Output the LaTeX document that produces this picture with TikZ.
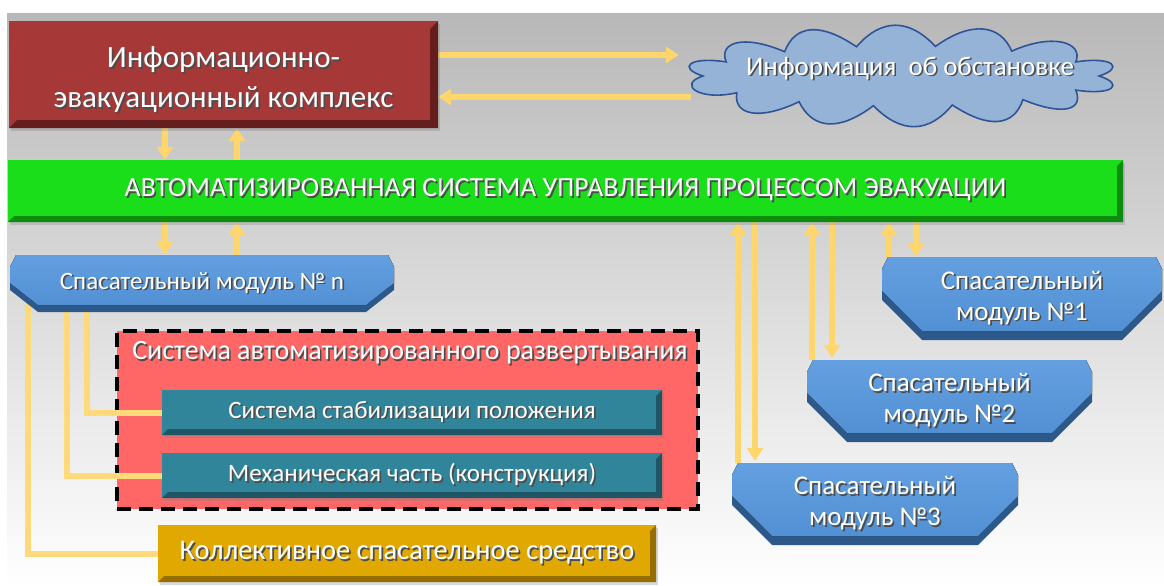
\documentclass[tikz,border=0pt]{standalone}
\usepackage{fontspec}
\setmainfont{Carlito}
\usetikzlibrary{arrows.meta,shadows}

\pgfdeclarelayer{bg}
\pgfdeclarelayer{frame}
\pgfdeclarelayer{links}
\pgfdeclarelayer{cloudl}
\pgfsetlayers{bg,frame,links,cloudl,main}

\definecolor{bgtop}{RGB}{184,184,184}
\definecolor{redface}{RGB}{166,56,56}
\definecolor{reddark}{RGB}{100,30,30}
\definecolor{grnface}{RGB}{26,222,26}
\definecolor{grndark}{RGB}{14,140,14}
\definecolor{cloudfill}{RGB}{149,179,215}
\definecolor{cloudline}{RGB}{47,85,151}
\definecolor{blutop}{RGB}{100,160,224}
\definecolor{blubot}{RGB}{82,144,212}
\definecolor{bludark}{RGB}{44,88,138}
\definecolor{salmon}{RGB}{255,102,102}
\definecolor{tealface}{RGB}{49,133,155}
\definecolor{tealdark}{RGB}{30,86,101}
\definecolor{goldface}{RGB}{224,168,0}
\definecolor{golddark}{RGB}{150,110,0}
\definecolor{arrowc}{RGB}{255,214,108}
\definecolor{linec}{RGB}{255,218,122}

% white lettering with a dark offset shadow
\newcommand\sh[1]{\leavevmode\rlap{\kern1.7pt\raisebox{-1.7pt}{\color{black!70}#1}}#1}
\newcommand\fs[2]{\fontsize{#1}{#2}\selectfont}

\tikzset{
  % flat box with a darker bevel along the bottom and right edges
  box3d/.style n args={3}{inner sep=0pt, fill=#1, text=white, align=center,
    path picture={\fill[#2] (path picture bounding box.south west)
      -- (path picture bounding box.south east)
      -- (path picture bounding box.north east)
      -- ([xshift=-#3,yshift=-#3]path picture bounding box.north east)
      -- ([xshift=-#3,yshift=#3]path picture bounding box.south east)
      -- ([xshift=#3,yshift=#3]path picture bounding box.south west) -- cycle;}},
  % octagonal rescue module: small top corners, large bottom corners, dark base
  module/.style n args={3}{inner sep=0pt, text=white, align=center,
    path picture={
      \fill[bludark] ([xshift=6pt]path picture bounding box.north west)
        -- ([xshift=-6pt]path picture bounding box.north east)
        -- ([yshift=-12pt]path picture bounding box.north east)
        -- ([yshift=#2]path picture bounding box.south east)
        -- ([xshift=-#1]path picture bounding box.south east)
        -- ([xshift=#1]path picture bounding box.south west)
        -- ([yshift=#2]path picture bounding box.south west)
        -- ([yshift=-12pt]path picture bounding box.north west) -- cycle;
      \fill[top color=blutop,bottom color=blubot]
           ([xshift=6pt]path picture bounding box.north west)
        -- ([xshift=-6pt]path picture bounding box.north east)
        -- ([yshift=-12pt]path picture bounding box.north east)
        -- ([yshift=#2+#3]path picture bounding box.south east)
        -- ([xshift=-#1,yshift=#3]path picture bounding box.south east)
        -- ([xshift=#1,yshift=#3]path picture bounding box.south west)
        -- ([yshift=#2+#3]path picture bounding box.south west)
        -- ([yshift=-12pt]path picture bounding box.north west) -- cycle;}},
  shade3d/.style={drop shadow={opacity=0.3,shadow xshift=2pt,shadow yshift=-3pt}},
  arr/.style={draw=arrowc, line width=6pt, -{Triangle[width=16pt,length=13pt]}},
  conn/.style={draw=linec, line width=6pt},
  puffy/.style={fill=cloudfill, draw=cloudline, line width=1.6pt},
}

\begin{document}
\begin{tikzpicture}[x=1pt,y=-1pt]
\useasboundingbox (0,0) rectangle (1164,586);
\begin{pgfonlayer}{bg}
  \fill[top color=bgtop,bottom color=white] (7,14) rectangle (1164,586);
\end{pgfonlayer}

% upper level
\node[box3d={redface}{reddark}{8pt}, shade3d, minimum width=429pt, minimum height=107pt,
      font=\fs{31}{40}] (ieb) at (223.5,74.5)
      {\raisebox{-5pt}[\height][\depth]{\begin{tabular}{@{}c@{}}\sh{Информационно-}\\\sh{эвакуационный комплекс}\end{tabular}}};
\node[minimum width=436pt, minimum height=98pt, inner sep=0pt, text=white,
      font=\fs{27}{32}] (info) at (901,76)
      {\raisebox{1pt}[0pt][0pt]{\makebox[0pt]{\hspace{18pt}\sh{Информация\ \ об обстановке}}}};
% cloud outline around the situation data
\begin{pgfonlayer}{cloudl}
  \filldraw[puffy] ([shift={(198,0)}]info.center)
    \foreach \ta/\tb in {0/28,28/52,52/75,75/98,98/121,121/146,146/180,
                         180/208,208/234,234/257,257/280,280/304,304/332,332/360}{
      .. controls ([shift={({226*cos(\ta+8)},{58*sin(\ta+8)})}]info.center)
             and ([shift={({226*cos(\tb-8)},{58*sin(\tb-8)})}]info.center)
      .. ([shift={({198*cos(\tb)},{30*sin(\tb)})}]info.center)
    } -- cycle;
\end{pgfonlayer}

% control system bar
\node[box3d={grnface}{grndark}{6pt}, shade3d, minimum width=1115pt, minimum height=62pt,
      font=\fs{27.7}{31}] (asu) at (565.5,191)
      {\sh{АВТОМАТИЗИРОВАННАЯ СИСТЕМА УПРАВЛЕНИЯ ПРОЦЕССОМ ЭВАКУАЦИИ}};

% rescue modules
\node[module={28pt}{22pt}{7pt}, minimum width=384pt, minimum height=57pt,
      font=\fs{25}{30}] (modn) at (202,283.5) {\sh{Спасательный модуль № n}};
\node[module={40pt}{40pt}{9pt}, minimum width=280pt, minimum height=83pt,
      font=\fs{27}{31}] (mod1) at (1022,298.5) {\sh{Спасательный}\\\sh{модуль №1}};
\node[module={40pt}{40pt}{9pt}, minimum width=285pt, minimum height=82pt,
      font=\fs{27}{31}] (mod2) at (949.5,401) {\sh{Спасательный}\\\sh{модуль №2}};
\node[module={40pt}{40pt}{9pt}, minimum width=286pt, minimum height=82pt,
      font=\fs{27}{31}] (mod3) at (875,504) {\sh{Спасательный}\\\sh{модуль №3}};

% automated deployment system
\begin{pgfonlayer}{frame}
\node[fill=salmon, draw=black, line width=4pt, dash pattern=on 14pt off 8pt,
      minimum width=581pt, minimum height=178pt, inner sep=0pt] (sad) at (407.5,420) {};
\end{pgfonlayer}
\node[text=white, font=\fs{28}{32}, inner sep=0pt] (sadt) at (410,354)
      {\sh{Система автоматизированного развертывания}};
\node[box3d={tealface}{tealdark}{6pt}, shade3d, minimum width=500pt, minimum height=45pt,
      font=\fs{25}{28}] (stab) at (412,412.5) {\sh{Система стабилизации положения}};
\node[box3d={tealface}{tealdark}{6pt}, shade3d, minimum width=500pt, minimum height=45pt,
      font=\fs{25}{28}] (mech) at (412,475.5) {\sh{Механическая часть (конструкция)}};

% collective rescue means
\node[box3d={goldface}{golddark}{6pt}, shade3d, minimum width=498pt, minimum height=57pt,
      font=\fs{28.5}{31}] (kss) at (407,553.5) {\sh{Коллективное спасательное средство}};

\begin{pgfonlayer}{links}
  % complex <-> situation data
  \draw[arr, shorten >=4pt] ([yshift=19.5pt]ieb.east) -- ([yshift=19.5pt]ieb.east -| info.west);
  \draw[arr, shorten <=-8pt] ([yshift=-22.5pt]ieb.east -| info.west) -- ([yshift=-22.5pt]ieb.east);
  % complex <-> control system
  \draw[arr] ([xshift=-58.5pt]ieb.south) -- ([xshift=-58.5pt]ieb.south |- asu.north);
  \draw[arr] ([xshift=13.5pt]ieb.south |- asu.north) -- ([xshift=13.5pt]ieb.south);
  % control system <-> module n
  \draw[arr] ([xshift=-37pt]modn.north |- asu.south) -- ([xshift=-37pt]modn.north);
  \draw[arr] ([xshift=35pt]modn.north) -- ([xshift=35pt]modn.north |- asu.south);
  % control system <-> modules 1..3
  \draw[arr] ([xshift=-137pt]mod3.north) -- ([xshift=-137pt]mod3.north |- asu.south);
  \draw[arr, shorten >=2pt] ([xshift=-120pt]mod3.north |- asu.south) -- ([xshift=-120pt]mod3.north);
  \draw[arr] ([xshift=-137.5pt]mod2.north) -- ([xshift=-137.5pt]mod2.north |- asu.south);
  \draw[arr, shorten >=2pt] ([xshift=-117.5pt]mod2.north |- asu.south) -- ([xshift=-117.5pt]mod2.north);
  \draw[arr] ([xshift=-133pt]mod1.north) -- ([xshift=-133pt]mod1.north |- asu.south);
  \draw[arr] ([xshift=-106pt]mod1.north |- asu.south) -- ([xshift=-106pt]mod1.north);
  % module n to its subsystems
  \draw[conn, shorten <=-12pt] ([xshift=-174pt]modn.south) |- (kss.west);
  \draw[conn, shorten <=-6pt] ([xshift=-135pt]modn.south) |- (mech.west);
  \draw[conn, shorten <=-6pt] ([xshift=-115pt]modn.south) |- (stab.west);
\end{pgfonlayer}
\end{tikzpicture}
\end{document}
